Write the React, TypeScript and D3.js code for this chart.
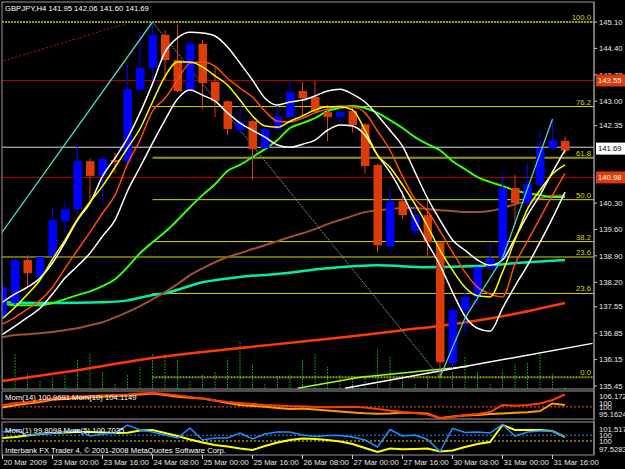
import React from "react";
import * as d3 from "d3";

const FONT = "'Liberation Sans', Arial, sans-serif";
const FS = 7.7;

const titleText = "GBPJPY,H4  141.95 142.06 141.60 141.69";
const copyrightText = "Interbank FX Trader 4, © 2001-2008 MetaQuotes Software Corp.";
const mom2Title = "Mom(14) 100.9691  Mom(10) 104.1149";
const mom3Title = "Mom(1) 99.8098  Mom(5) 100.7035";

// OHLC (H4 bars)
const opens = [137.27,137.65,138.79,138.34,138.89,139.82,140.14,141.41,141.02,141.44,141.41,143.30,143.88,144.76,144.09,143.27,144.52,143.51,143.00,142.24,142.47,141.76,142.26,142.58,143.27,143.11,142.71,142.58,142.74,142.39,141.31,139.16,140.35,139.56,139.98,139.26,136.05,137.46,137.81,138.57,138.84,140.70,140.30,140.78,141.76,141.95];
const highs = [138.18,138.84,138.92,138.89,140.19,140.35,141.86,141.49,141.55,141.63,143.96,144.86,145.10,144.89,145.02,144.62,144.62,143.91,143.03,143.14,142.50,142.28,142.95,143.56,143.51,143.53,142.90,142.85,142.85,142.41,141.33,140.70,140.62,140.33,140.41,139.28,137.57,138.12,138.62,139.26,141.09,141.04,141.36,142.24,142.53,142.06];
const lows = [137.14,137.59,138.10,138.10,138.84,139.50,140.01,140.33,140.30,141.09,141.31,143.24,143.48,143.56,143.24,143.22,142.79,142.58,142.10,142.16,140.91,141.73,142.24,142.55,142.61,142.69,141.94,142.42,142.16,141.07,139.00,139.05,139.87,139.45,138.87,135.68,135.92,136.85,137.59,138.52,138.82,139.74,140.11,140.65,141.70,141.60];
const closes = [138.07,138.79,138.44,138.87,139.85,140.14,141.41,141.02,141.47,141.39,143.32,143.88,144.76,144.09,143.27,144.52,143.48,143.00,142.26,142.47,141.73,142.26,142.61,143.24,143.08,142.71,142.58,142.71,142.37,141.28,139.18,140.35,139.98,139.98,139.26,136.08,137.46,137.81,138.60,138.84,140.70,140.30,140.80,141.76,141.97,141.69];
const volumes = [775,875,400,200,300,375,750,900,425,150,350,550,875,875,725,200,375,425,775,1175,625,150,325,350,750,875,550,375,325,375,1000,825,400,125,450,525,450,825,450,150,475,625,675,875,400,75];

// moving averages / envelopes
const yellowMA = [137.24,137.54,137.88,138.26,138.81,139.32,139.87,140.33,140.75,141.25,141.76,142.27,142.98,143.66,144.04,144.04,143.91,143.67,143.43,143.03,142.61,142.34,142.31,142.47,142.61,142.77,142.85,142.85,142.77,142.23,141.57,141.25,140.78,140.27,139.69,139.05,138.52,138.07,137.84,137.81,138.47,139.32,140.14,140.64,141.07,141.31];
const orangeMA = [137.09,137.27,137.49,137.72,138.07,138.57,139.05,139.53,140.03,140.51,141.33,141.97,142.74,143.08,143.56,144.01,144.04,143.93,143.61,143.35,143.11,142.74,142.47,142.45,142.55,142.69,142.79,142.87,142.85,142.69,142.21,141.70,141.01,140.41,140.09,139.56,139.00,138.47,138.07,137.89,137.81,138.68,139.29,139.90,140.51,141.09];
const upperBand = [137.67,137.89,138.07,138.31,138.71,139.26,139.85,140.30,141.01,141.49,142.02,142.69,143.46,144.30,144.68,144.83,144.81,144.73,144.44,144.01,143.56,143.08,142.90,142.98,143.03,143.14,143.27,143.32,143.19,142.98,142.63,142.23,141.81,141.12,140.43,139.85,139.32,139.05,138.79,138.65,138.79,139.37,139.98,140.51,141.12,141.70];
const lowerBand = [136.82,137.04,137.27,137.51,137.89,138.31,138.63,138.97,139.42,139.85,140.62,141.25,141.89,142.50,143.06,143.30,143.16,143.00,142.69,142.42,142.23,142.05,141.84,141.78,141.86,141.97,142.23,142.37,142.34,142.10,141.57,141.12,140.54,139.85,139.24,138.65,137.94,137.30,136.98,136.90,137.51,138.10,138.65,139.26,139.90,140.59];
const greenMA = [137.65,137.59,137.59,137.59,137.65,137.75,137.86,137.96,138.10,138.28,138.60,138.97,139.26,139.53,139.85,140.19,140.51,140.80,141.15,141.31,141.52,141.73,141.97,142.29,142.42,142.55,142.74,142.82,142.87,142.82,142.69,142.50,142.29,142.05,141.86,141.70,141.41,141.20,140.99,140.86,140.75,140.64,140.56,140.51,140.46,140.46];
const brownMA = [136.74,136.80,136.82,136.85,136.88,136.93,136.98,137.06,137.14,137.27,137.41,137.57,137.75,137.94,138.15,138.39,138.57,138.73,138.87,138.97,139.08,139.18,139.29,139.40,139.50,139.61,139.74,139.85,139.96,140.06,140.11,140.14,140.17,140.17,140.14,140.11,140.09,140.06,140.06,140.09,140.17,140.27,140.35,140.43,140.49,140.51];
const aquaBars = [0,4,8,10,12,13,16,19,22,26,30,34,38,42,45];
const aquaMA = [137.67,137.65,137.67,137.72,137.86,137.91,138.20,138.34,138.42,138.57,138.65,138.60,138.63,138.73,138.79];
const longBars = [0,6,12,16,22,28,32,36,40,45];
const longMA = [135.58,135.87,136.19,136.35,136.56,136.77,136.93,137.09,137.30,137.65];

// drawn objects (bar index, price)
const zigzagUp1 = [[-0.2,139.45],[12,145.10]];
const fibDiagonal = [[12,145.10],[35,135.68]];
const zigzagUp2 = [[35,135.68],[37,137.25],[40,138.84],[44,142.53]];
const redDotted = [[-0.2,144.04],[9.8,145.05]];
const whiteTrend = [[27.4,135.39],[47.2,136.58]];
const greenTrend = [[23.6,135.39],[28.6,135.68],[37.2,135.97]];

const fibHigh = 145.10;
const fibLow = 135.68;
const fibStartBar = 12;
const fibRatios = [100, 76.2, 61.8, 50, 38.2, 23.6, 0];
const extraFib = [{ ratio: "100.0", price: 145.10 }, { ratio: "23.6", price: 138.87 }];

const redLevels = [143.55, 140.98];
const whiteLevel = 141.78;
const bidPrice = 141.69;

// momentum panels
const mom14 = [99.73,100.65,101.39,102.02,102.93,103.26,103.68,103.89,104.22,104.51,104.72,105.13,105.55,104.93,104.18,103.76,103.47,102.64,101.60,100.77,100.36,100.02,99.52,99.11,99.32,98.90,98.49,98.07,97.66,97.32,97.11,97.24,97.66,97.45,97.24,95.25,95.99,96.41,96.62,97.03,97.24,97.53,97.74,98.28,101.39,100.77];
const mom10 = [100.56,101.60,102.02,102.64,103.47,103.89,104.30,104.51,104.72,104.93,105.13,105.55,105.84,105.34,104.72,104.10,103.47,102.64,102.02,101.60,101.19,100.77,100.56,100.23,100.27,99.94,99.82,99.94,100.07,99.73,99.11,98.49,97.86,97.45,96.82,95.37,95.79,96.62,97.03,97.86,100.77,100.44,100.77,101.39,102.85,105.13];
const mom1 = [100.44,100.71,100.03,100.17,100.30,100.44,100.71,99.89,100.17,100.30,101.38,100.71,100.44,100.03,99.62,100.98,99.35,99.62,99.62,100.30,99.49,100.17,100.44,100.44,100.03,99.83,99.96,99.96,99.76,99.35,98.41,100.77,99.89,100.03,99.42,97.80,100.91,100.37,100.44,100.30,101.45,99.89,100.44,100.57,100.57,99.76];
const mom5 = [100.43,100.58,100.79,101.01,101.15,101.23,101.30,101.30,101.23,101.15,101.20,101.51,101.59,101.15,100.72,100.22,99.79,99.42,99.21,98.92,98.70,99.28,99.79,100.15,100.36,100.29,100.15,99.93,99.57,98.99,98.42,98.92,98.81,98.85,98.92,98.49,98.63,99.14,99.57,99.86,102.31,101.59,101.59,101.59,101.44,100.58];

const priceTicks = ["145.10","144.40","143.70","143.00","142.35","140.30","139.60","138.90","138.20","137.55","136.85","136.15","135.45"];
const timeBars = [0,4,8,12,16,20,24,28,32,36,40,44];
const timeLabels = ["20 Mar 2009","23 Mar 00:00","23 Mar 16:00","24 Mar 08:00","25 Mar 00:00","25 Mar 16:00","26 Mar 08:00","27 Mar 00:00","27 Mar 16:00","30 Mar 08:00","31 Mar 00:00","31 Mar 16:00"];

const BULL = "#0000ff";
const BEAR = "#dc3c0a";

export default function App() {
  const L = 2, R = 594, T = 2, B = 389;
  const x = d3.scaleLinear().domain([0, 45]).range([2.5, 565]);
  const y = d3.scaleLinear().domain([135.45, 145.1]).range([386, 22]);
  const yVol = d3.scaleLinear().domain([0, 1200]).range([B, 341]);
  const yMom = d3.scaleLinear().domain([95.1624, 106.1728]).range([418.5, 392]);
  const yM1 = d3.scaleLinear().domain([97.5283, 101.5178]).range([453.5, 424]);
  const yM5 = d3.scaleLinear().domain([98.2, 102.45]).range([453.5, 424]);

  const mk = (ys: d3.ScaleLinear<number, number>, curve: any = d3.curveMonotoneX) =>
    d3.line<number[]>().x((d) => x(d[0])).y((d) => ys(d[1])).curve(curve);
  const curveLine = mk(y);
  const straight = mk(y, d3.curveLinear);
  const ser = (a: number[]) => a.map((v, i) => [i, v]);
  const pairs = (bars: number[], vals: number[]) => bars.map((b, i) => [b, vals[i]]);
  const momLine = mk(yMom, d3.curveLinear);
  const m1Line = mk(yM1, d3.curveLinear);
  const m5Line = mk(yM5, d3.curveLinear);

  const fibPrice = (r: number) => fibLow + (r / 100) * (fibHigh - fibLow);
  const fibColor = (r: number) => (r === 61.8 || r === 100 || r === 0 ? "#9a9a00" : "#d8d800");

  return (
    <svg width={625} height={469} style={{ position: "absolute", left: 0, top: 0, display: "block" }} fontFamily={FONT}>
      <rect x={0} y={0} width={625} height={469} fill="#000" />
      <defs>
        <clipPath id="mainClip"><rect x={L} y={T} width={R - L} height={B - T} /></clipPath>
        <clipPath id="p2Clip"><rect x={L} y={391} width={R - L} height={28} /></clipPath>
        <clipPath id="p3Clip"><rect x={L} y={422} width={R - L} height={33} /></clipPath>
      </defs>

      <g clipPath="url(#mainClip)">
        {volumes.map((v, i) => (
          <line key={"v" + i} x1={x(i)} x2={x(i)} y1={yVol(0)} y2={yVol(v)} stroke="#00a000" strokeWidth={1} strokeDasharray="2,1" />
        ))}

        {redLevels.map((p, i) => (
          <line key={"rl" + i} x1={L} x2={R} y1={y(p)} y2={y(p)} stroke="#b80000" strokeWidth={1} />
        ))}
        <line x1={L} x2={R} y1={y(whiteLevel)} y2={y(whiteLevel)} stroke="#d8d8d8" strokeWidth={1} />
        {extraFib.map((f, i) => (
          <line key={"ef" + i} x1={L} x2={R} y1={y(f.price)} y2={y(f.price)}
            stroke={f.ratio === "100.0" ? "#9a9a00" : "#d8d800"} strokeWidth={f.ratio === "100.0" ? 2 : 1}
            strokeDasharray={f.ratio === "100.0" ? "2,1" : undefined} />
        ))}
        {fibRatios.map((r) => (
          <line key={"fb" + r} x1={x(fibStartBar)} x2={R} y1={y(fibPrice(r))} y2={y(fibPrice(r))}
            stroke={fibColor(r)} strokeWidth={r === 61.8 ? 2 : r === 0 ? 2 : 1}
            strokeDasharray={r === 0 || r === 100 ? "2,1" : undefined} />
        ))}

        <path d={curveLine(pairs(longBars, longMA)) || ""} fill="none" stroke="#ff3a00" strokeWidth={2.5} />
        <path d={curveLine(pairs(aquaBars, aquaMA)) || ""} fill="none" stroke="#00f0a0" strokeWidth={2.5} />
        <path d={curveLine(ser(brownMA)) || ""} fill="none" stroke="#a0522d" strokeWidth={2} />
        <path d={curveLine(ser(greenMA)) || ""} fill="none" stroke="#33ff11" strokeWidth={2} />

        <path d={straight(greenTrend) || ""} fill="none" stroke="#99ff22" strokeWidth={1.5} />
        <path d={straight(whiteTrend) || ""} fill="none" stroke="#ffffff" strokeWidth={1.5} />
        <path d={straight(redDotted) || ""} fill="none" stroke="#cc1100" strokeWidth={1} strokeDasharray="2,2" />
        <path d={straight(fibDiagonal) || ""} fill="none" stroke="#5f9ea0" strokeWidth={1} strokeDasharray="2,1" />

        {opens.map((o, i) => {
          const c = closes[i];
          const col = c >= o ? BULL : BEAR;
          const top = y(Math.max(o, c));
          const bot = y(Math.min(o, c));
          return (
            <g key={"c" + i}>
              <line x1={x(i)} x2={x(i)} y1={y(highs[i])} y2={y(lows[i])} stroke={col} strokeWidth={1} />
              <rect x={x(i) - 4} y={top} width={8.5} height={Math.max(1, bot - top)} fill={col} />
            </g>
          );
        })}

        <path d={curveLine(ser(upperBand)) || ""} fill="none" stroke="#ffffff" strokeWidth={1.5} />
        <path d={curveLine(ser(lowerBand)) || ""} fill="none" stroke="#ffffff" strokeWidth={1.5} />
        <path d={curveLine(ser(orangeMA)) || ""} fill="none" stroke="#ff4a0a" strokeWidth={1.5} />
        <path d={curveLine(ser(yellowMA)) || ""} fill="none" stroke="#ffff00" strokeWidth={1.5} />

        <path d={straight(zigzagUp1) || ""} fill="none" stroke="#40d8c8" strokeWidth={1.3} />
        <path d={straight(zigzagUp2) || ""} fill="none" stroke="#40d8c8" strokeWidth={1.3} />

        {fibRatios.map((r) => (
          <text key={"fl" + r} x={591} y={y(fibPrice(r)) - 2} textAnchor="end" fontSize={FS} fill="#d8d800">
            {r.toFixed(1)}
          </text>
        ))}
        {extraFib.filter((f) => f.ratio !== "100.0").map((f, i) => (
          <text key={"efl" + i} x={591} y={y(f.price) - 2} textAnchor="end" fontSize={FS} fill="#d8d800">{f.ratio}</text>
        ))}
      </g>

      <rect x={L} y={T} width={R - L} height={B - T} fill="none" stroke="#9a9a9a" strokeWidth={1} />
      <rect x={L} y={391} width={R - L} height={28} fill="none" stroke="#9a9a9a" strokeWidth={1} />
      <rect x={L} y={422} width={R - L} height={33} fill="none" stroke="#9a9a9a" strokeWidth={1} />

      <text x={5} y={11} fontSize={FS} fill="#ffffff">{titleText}</text>

      {priceTicks.map((t) => (
        <g key={"pt" + t}>
          <line x1={R} x2={R + 3} y1={y(+t)} y2={y(+t)} stroke="#cfcfcf" />
          <text x={599} y={y(+t)} dy="0.35em" fontSize={FS} fill="#e8e8e8">{t}</text>
        </g>
      ))}
      {redLevels.map((p, i) => (
        <g key={"rb" + i}>
          <rect x={596} y={y(p) - 6} width={29} height={12} fill="#dc3c0a" />
          <text x={598} y={y(p)} dy="0.35em" fontSize={FS} fill="#ffffff">{p.toFixed(2)}</text>
        </g>
      ))}
      <rect x={596} y={y(bidPrice) - 8} width={29} height={12} fill="#ffffff" />
      <text x={598} y={y(bidPrice) - 2} dy="0.35em" fontSize={FS} fill="#000000">{bidPrice.toFixed(2)}</text>

      <g clipPath="url(#p2Clip)">
        <line x1={L} x2={R} y1={yMom(100)} y2={yMom(100)} stroke="#ff5a00" strokeDasharray="2,2" />
        <path d={momLine(ser(mom14)) || ""} fill="none" stroke="#ff9a00" strokeWidth={2} />
        <path d={momLine(ser(mom10)) || ""} fill="none" stroke="#ff3a00" strokeWidth={2} />
      </g>
      <text x={5} y={397} dy="0.35em" fontSize={FS} fill="#ffffff">{mom2Title}</text>
      <text x={599} y={yMom(106.1728) + 4} dy="0.35em" fontSize={FS} fill="#e8e8e8">106.1728</text>
      <text x={599} y={yMom(100) - 4} dy="0.35em" fontSize={FS} fill="#e8e8e8">100</text>
      <text x={599} y={yMom(100)} dy="0.35em" fontSize={FS} fill="#e8e8e8">100</text>
      <text x={599} y={yMom(95.1624) - 4} dy="0.35em" fontSize={FS} fill="#e8e8e8">95.1624</text>

      <g clipPath="url(#p3Clip)">
        <line x1={L} x2={R} y1={yM1(100)} y2={yM1(100)} stroke="#1e90ff" strokeDasharray="2,2" />
        <line x1={L} x2={R} y1={yM5(100)} y2={yM5(100)} stroke="#e0e000" strokeDasharray="2,2" />
        <path d={m5Line(ser(mom5)) || ""} fill="none" stroke="#ffff00" strokeWidth={2} />
        <path d={m1Line(ser(mom1)) || ""} fill="none" stroke="#1e90ff" strokeWidth={1.5} />
      </g>
      <text x={5} y={430} dy="0.35em" fontSize={FS} fill="#ffffff">{mom3Title}</text>
      <text x={5} y={450} dy="0.35em" fontSize={FS} fill="#ffffff">{copyrightText}</text>
      <text x={599} y={yM1(101.5178) + 5} dy="0.35em" fontSize={FS} fill="#e8e8e8">101.5178</text>
      <text x={599} y={yM1(100)} dy="0.35em" fontSize={FS} fill="#e8e8e8">100</text>
      <text x={599} y={yM5(100)} dy="0.35em" fontSize={FS} fill="#e8e8e8">100</text>
      <text x={599} y={yM1(97.5283) - 4} dy="0.35em" fontSize={FS} fill="#e8e8e8">97.5283</text>

      <line x1={R} x2={R} y1={T} y2={455} stroke="#9a9a9a" />

      {timeBars.map((b, i) => (
        <g key={"tb" + b}>
          <line x1={x(b)} x2={x(b)} y1={455} y2={459} stroke="#cfcfcf" />
          <text x={x(b) + 1} y={462} dy="0.35em" fontSize={FS} fill="#e8e8e8">{timeLabels[i]}</text>
        </g>
      ))}
    </svg>
  );
}
